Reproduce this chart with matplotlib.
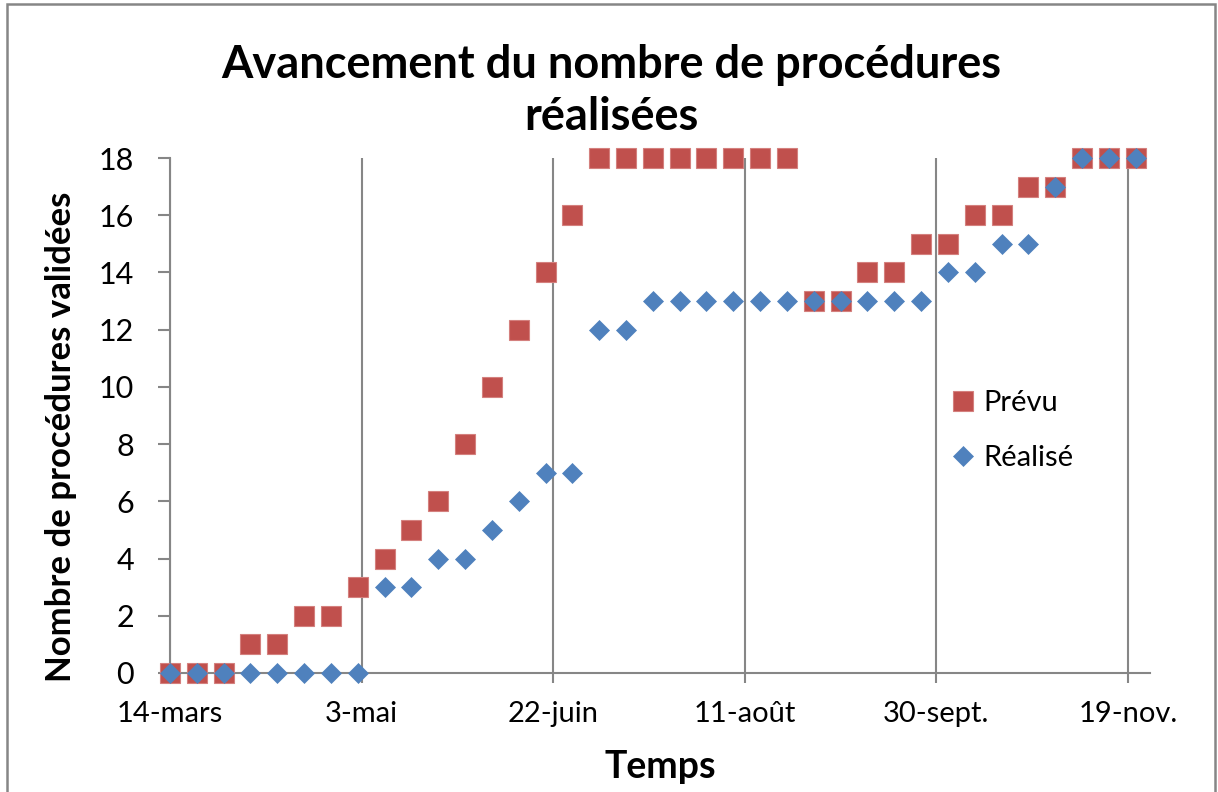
import matplotlib
matplotlib.use("Agg")
import matplotlib.pyplot as plt
from matplotlib.patches import Rectangle
from datetime import datetime

plt.rcParams['font.family'] = ['Lato', 'DejaVu Sans']

dates = ['2011-03-14', '2011-03-21', '2011-03-28', '2011-04-04', '2011-04-11',
         '2011-04-18', '2011-04-25', '2011-05-02', '2011-05-09', '2011-05-16',
         '2011-05-23', '2011-05-30', '2011-06-06', '2011-06-13', '2011-06-20',
         '2011-06-27', '2011-07-04', '2011-07-11', '2011-07-18', '2011-07-25',
         '2011-08-01', '2011-08-08', '2011-08-15', '2011-08-22', '2011-08-29',
         '2011-09-05', '2011-09-12', '2011-09-19', '2011-09-26', '2011-10-03',
         '2011-10-10', '2011-10-17', '2011-10-24', '2011-10-31', '2011-11-07',
         '2011-11-14', '2011-11-21']
prevu = [0, 0, 0, 1, 1, 2, 2, 3, 4, 5, 6, 8, 10, 12, 14, 16, 18, 18, 18, 18,
         18, 18, 18, 18, 13, 13, 14, 14, 15, 15, 16, 16, 17, 17, 18, 18, 18]
realise = [0, 0, 0, 0, 0, 0, 0, 0, 3, 3, 4, 4, 5, 6, 7, 7, 12, 12, 13, 13,
           13, 13, 13, 13, 13, 13, 13, 13, 13, 14, 14, 15, 15, 17, 18, 18, 18]

tick_dates = ['2011-03-14', '2011-05-03', '2011-06-22', '2011-08-11',
              '2011-09-30', '2011-11-19']
tick_labels = ['14-mars', '3-mai', '22-juin', '11-août', '30-sept.', '19-nov.']

x = [datetime.strptime(d, '%Y-%m-%d') for d in dates]
xt = [datetime.strptime(d, '%Y-%m-%d') for d in tick_dates]

grey = '#868686'
red = '#C0504D'
blue = '#4F81BD'

fig = plt.figure(figsize=(12.18, 7.92), dpi=100)
ax = fig.add_axes([170/1218, 1-673/792, (1150-170)/1218, (673-158)/792])

ax.plot(x, prevu, linestyle='none', marker='s', ms=14.4, color=red,
        mec='#D4807E', mew=0.8, clip_on=False, zorder=3, label='Prévu')
ax.plot(x, realise, linestyle='none', marker='D', ms=10.2, color=blue,
        mec=blue, mew=0.5, clip_on=False, zorder=4, label='Réalisé')

ax.set_xlim(datetime(2011, 3, 14), datetime(2011, 11, 24, 18))
ax.set_ylim(0, 18)
ax.set_yticks(range(0, 19, 2))
ax.set_xticks(xt)
ax.set_xticklabels(tick_labels)
ax.xaxis.grid(True, color=grey, linewidth=1.5)
ax.set_axisbelow(True)

for s in ['top', 'right']:
    ax.spines[s].set_visible(False)
for s in ['left', 'bottom']:
    ax.spines[s].set_color(grey)
    ax.spines[s].set_linewidth(1.5)

ax.tick_params(axis='y', direction='out', length=9, width=1.5, color=grey,
               labelsize=22, pad=17)
ax.tick_params(axis='x', direction='out', length=7, width=1.5, color=grey,
               labelsize=21, pad=13)

ax.set_title('Avancement du nombre de procédures\nréalisées', fontsize=32.5,
             fontweight='bold', pad=20, linespacing=1.3, x=0.45)
ax.set_ylabel('Nombre de procédures validées', fontsize=25, fontweight='bold')
ax.yaxis.set_label_coords(-0.095, 0.458)
ax.set_xlabel('Temps', fontsize=27, fontweight='bold', labelpad=17)

ax.legend(loc='center left', bbox_to_anchor=(0.7790, 0.456),
          bbox_transform=fig.transFigure, frameon=False, fontsize=21,
          handlelength=1.0, handletextpad=0.2, labelspacing=1.0,
          borderpad=0, borderaxespad=0)

fig.patches.append(Rectangle((7/1218, -0.05), (1215-7)/1218, 1.05 - 4/792,
                             transform=fig.transFigure, fill=False,
                             edgecolor=grey, linewidth=1.8))

fig.savefig('out.png', dpi=100)
